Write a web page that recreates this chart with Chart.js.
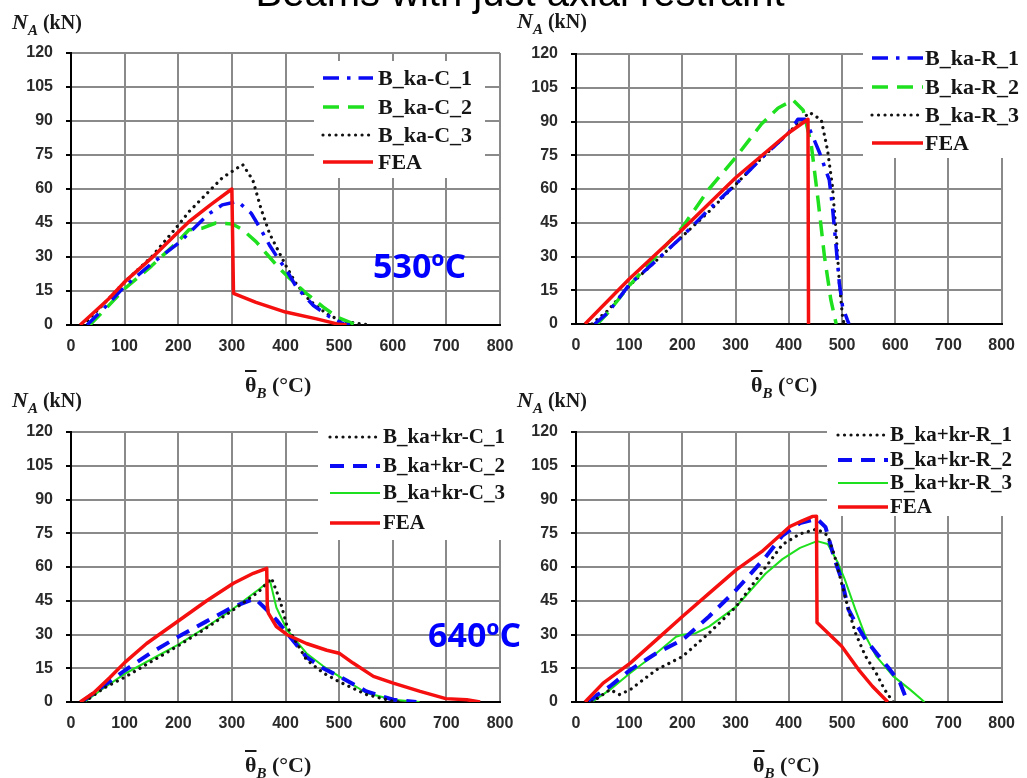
<!DOCTYPE html>
<html><head><meta charset="utf-8">
<script src="https://cdn.jsdelivr.net/npm/chart.js@4.4.1/dist/chart.umd.min.js"></script>
<style>
html,body{margin:0;padding:0;background:#fff;width:1027px;height:778px;overflow:hidden;position:relative;}
canvas{position:absolute;left:0;top:0;}
.t{position:absolute;white-space:nowrap;line-height:1;z-index:5;}
.title{left:0;width:1040px;text-align:center;top:-30px;font:40px "Liberation Sans",Arial,sans-serif;color:#000;}
.yt{font:bold 22px "Liberation Serif","Times New Roman",serif;color:#1a1a1a;}
.yt i{font-style:italic;}
.sub{font-size:15px;position:relative;top:6px;font-style:italic;}
.kn{font-size:20px;}
.ann{font:bold 34px "Open Sans",sans-serif;color:#0000ff;}
.theta{text-decoration:overline;}
</style></head><body>
<canvas id="c1" width="1027" height="778"></canvas>
<canvas id="c2" width="1027" height="778"></canvas>
<canvas id="c3" width="1027" height="778"></canvas>
<canvas id="c4" width="1027" height="778"></canvas>

<div class="t title">Beams with just axial restraint</div>

<div class="t yt" style="left:12px;top:9px"><i>N</i><span class="sub">A</span><span class="kn"> (kN)</span></div>
<div class="t yt" style="left:517px;top:8px"><i>N</i><span class="sub">A</span><span class="kn"> (kN)</span></div>
<div class="t yt" style="left:12px;top:387px"><i>N</i><span class="sub">A</span><span class="kn"> (kN)</span></div>
<div class="t yt" style="left:517px;top:387px"><i>N</i><span class="sub">A</span><span class="kn"> (kN)</span></div>

<div class="t yt" style="left:245px;top:372px"><span class="theta">θ</span><span class="sub">B</span> (°C)</div>
<div class="t yt" style="left:751px;top:372px"><span class="theta">θ</span><span class="sub">B</span> (°C)</div>
<div class="t yt" style="left:245px;top:752px"><span class="theta">θ</span><span class="sub">B</span> (°C)</div>
<div class="t yt" style="left:753px;top:752px"><span class="theta">θ</span><span class="sub">B</span> (°C)</div>

<div class="t ann" style="left:373px;top:242px">530ºC</div>
<div class="t ann" style="left:428px;top:611px">640ºC</div>

<script>
// ---------- tick labels ----------
const xTickValues = [0,100,200,300,400,500,600,700,800];
const yTickValues = [0,15,30,45,60,75,90,105,120];

// ---------- Panel 1 (B_ka-C) ----------
const p1Labels = ['B_ka-C_1','B_ka-C_2','B_ka-C_3','FEA'];
const p1C1 = [[30,0],[60,7],[100,17],[150,27],[200,36],[257,49],[282,53],[311,54.5],[336,49.3],[351,43.4],[370,35.3],[386,29.4],[402,24.2],[420,16.8],[452,8.6],[483,3.5],[508,0.5],[520,0]];
const p1C2 = [[35,0],[60,6],[100,16],[150,26],[200,37],[220,42],[245,42.7],[270,45],[301,44.6],[320,42],[345,36.8],[370,30],[389,24.9],[408,20.5],[439,13.9],[470,8],[496,3.5],[527,0.5],[535,0]];
const p1C3 = [[22,0],[60,9],[100,19],[150,30],[200,44],[220,50],[282,64.9],[320,70.8],[339,64],[355,50.8],[370,40.5],[389,31.6],[402,25.6],[420,18.2],[445,10.8],[477,4.9],[502,2],[540,0.5],[558,0]];
const p1FEA = [[17,0],[40,5],[70,11.5],[100,19],[150,29.5],[200,41],[220,45.6],[260,53],[300,60],[303,14],[345,10],[400,5.7],[458,2.7],[496,0.5],[514,0]];

// ---------- Panel 2 (B_ka-R) ----------
const p2Labels = ['B_ka-R_1','B_ka-R_2','B_ka-R_3','FEA'];
const p2R1 = [[35,0],[60,5],[100,17.5],[150,28],[200,39],[250,51],[300,62],[350,74],[400,85],[417,91],[430,91],[442,85],[458,76],[476,64],[482,52],[489,34],[495,18],[501,7.7],[510,1.8],[513,0]];
const p2R2 = [[40,0],[60,5],[100,17],[150,30],[200,43],[250,60],[300,74],[349,89],[380,96],[408,99.5],[427,95],[442,80],[455,55],[467,30],[479,10.7],[489,0]];
const p2R3 = [[30,0],[60,6],[100,17],[150,28],[200,39],[250,50],[300,62],[350,74],[400,85],[420,90],[439,94],[461,90.7],[473,77],[482,61],[489,40],[495,18],[501,3],[504,0]];
const p2FEA = [[17,0],[100,20],[200,42],[300,65],[400,85],[436,91],[437,0]];

// ---------- Panel 3 (B_ka+kr-C) ----------
const p3Labels = ['B_ka+kr-C_1','B_ka+kr-C_2','B_ka+kr-C_3','FEA'];
const p3C1 = [[25,0],[60,6],[100,11],[150,18],[200,25],[250,32.5],[300,40.5],[350,49],[374,55],[390,45],[403,33.5],[439,18.8],[470,13],[500,9],[551,3.3],[601,0.3],[613,0]];
const p3C2 = [[20,0],[60,7],[100,14],[150,22],[200,29],[250,35.5],[300,42],[343,46],[365,41],[383,36.5],[403,30.6],[439,20],[470,15],[500,11.4],[551,4.7],[601,1],[644,0]];
const p3C3 = [[25,0],[60,6],[100,12.5],[150,19],[200,25.5],[250,33],[300,41],[350,50],[371,54],[383,42],[403,32],[439,21.7],[470,16],[500,11.4],[551,4],[601,1],[650,0]];
const p3FEA = [[17,0],[42,4],[73,11],[100,17.5],[141,26],[200,36],[253,45],[303,52.8],[340,57.2],[365,59.4],[366,43],[368,39.5],[383,33.5],[403,29.9],[439,26],[477,23],[500,21.7],[526,17.3],[564,11.4],[601,8.4],[651,4.7],[699,1.5],[738,1],[763,0]];

// ---------- Panel 4 (B_ka+kr-R) ----------
const p4Labels = ['B_ka+kr-R_1','B_ka+kr-R_2','B_ka+kr-R_3','FEA'];
const p4R1 = [[30,0],[64,5.5],[82,3.3],[102,5.5],[151,14.3],[200,20.2],[250,30.6],[301,42.4],[356,59.8],[388,70],[421,74.7],[453,76.9],[473,74],[486,65],[499,53],[512,41.2],[525,30.8],[544,20.4],[564,12.9],[580,5.5],[596,0]];
const p4R2 = [[25,0],[39,3],[64,7],[102,14.3],[151,21.7],[200,27.6],[250,38],[301,49.8],[356,64.3],[388,74],[421,79.5],[453,81.4],[469,77.7],[486,63.5],[499,54.6],[512,41.2],[525,35.3],[544,27.8],[564,21.9],[590,14.4],[609,8.5],[619,2.5]];
const p4R3 = [[30,0],[64,5.5],[102,12.9],[151,21.7],[188,29],[200,29.9],[225,30.6],[250,33.5],[301,42.4],[356,57],[388,63.5],[421,68.5],[453,71.5],[473,70.2],[492,62],[505,54.6],[525,41.2],[544,29.3],[564,20.4],[596,11.5],[628,5.5],[655,0]];
const p4FEA = [[17,0],[51,8.4],[102,17.3],[151,27.6],[200,38],[250,48.3],[301,58.7],[349,66.8],[402,78],[425,80.5],[445,82.5],[452,82.6],[453,35.3],[473,30.8],[499,24.9],[531,14.4],[557,7],[586,0]];

// ---------- styles ----------
const BLUE='#0a0af5', GREEN='#1ee01e', BLACK='#111111', RED='#f50f0f';
const GRID='#8a8a8a';
const ST = {
  dashdot:{dash:[16,8,3.5,8],width:3.5,cap:'butt'},
  dashed:{dash:[16,9],width:3.5,cap:'butt'},
  dashedB:{dash:[14,9],width:4,cap:'butt'},
  dotted:{dash:[0.01,6.5],width:3.2,cap:'round'},
  thick:{dash:[],width:3.5,cap:'butt'},
  thin:{dash:[],width:2,cap:'butt'}
};

function ds(label, pts, color, st, order){
  return {label, data: pts.map(p=>({x:p[0],y:p[1]})), borderColor:color, backgroundColor:color,
    borderWidth:st.width, borderDash:st.dash, borderCapStyle:st.cap, borderJoinStyle:'round',
    pointRadius:0, tension:0, fill:false, order:order||0};
}

const legendSpecs = {};
const legendPlugin = {
  id:'boxLegend',
  afterDraw(chart){
    const spec = legendSpecs[chart.canvas.id]; if(!spec) return;
    const ctx = chart.ctx; ctx.save();
    ctx.fillStyle='#fff'; ctx.fillRect(spec.box[0],spec.box[1],spec.box[2],spec.box[3]);
    chart.data.datasets.forEach((d,i)=>{
      const y = spec.rows[i];
      ctx.strokeStyle=d.borderColor; ctx.lineWidth=d.borderWidth; ctx.setLineDash(d.borderDash||[]); ctx.lineCap=d.borderCapStyle;
      ctx.beginPath(); ctx.moveTo(spec.x1,y); ctx.lineTo(spec.x2,y); ctx.stroke();
      ctx.setLineDash([]);
      ctx.fillStyle='#151515'; ctx.font=spec.font; ctx.textBaseline='middle'; ctx.textAlign='left';
      ctx.fillText(d.label, spec.tx, y+1);
    });
    ctx.restore();
  }
};

const W=1027,H=778, YW=60, XH=40;
function panel(id, rect, datasets, leg){
  legendSpecs[id]=leg;
  const tickFont={family:'"Liberation Sans", Arial, sans-serif',weight:'bold',size:16};
  new Chart(document.getElementById(id),{
    type:'line',
    data:{datasets},
    plugins:[legendPlugin],
    options:{
      responsive:false, animation:false, devicePixelRatio:1,
      layout:{padding:{left:rect.l-YW, right:W-rect.r, top:rect.t, bottom:H-rect.b-XH}},
      plugins:{legend:{display:false},tooltip:{enabled:false},title:{display:false}},
      scales:{
        x:{type:'linear',min:0,max:800,
          afterBuildTicks:s=>{s.ticks=xTickValues.map(v=>({value:v}));},
          afterFit:s=>{s.height=XH;},
          grid:{color:GRID,lineWidth:2,drawTicks:false,z:-1},
          border:{display:true,color:'#000',width:2},
          ticks:{font:tickFont,color:'#2a2a2a',padding:12,maxRotation:0,autoSkip:false}},
        y:{type:'linear',min:0,max:120,
          afterBuildTicks:s=>{s.ticks=yTickValues.map(v=>({value:v}));},
          afterFit:s=>{s.width=YW;},
          grid:{color:GRID,lineWidth:2,drawTicks:true,tickLength:5,tickColor:'#000',tickWidth:2,z:-1},
          border:{display:true,color:'#000',width:2},
          ticks:{font:tickFont,color:'#2a2a2a',padding:13,autoSkip:false}}
      }
    }
  });
}

panel('c1',{l:71,r:500,t:53,b:325},[
  ds(p1Labels[0],p1C1,BLUE,ST.dashdot),
  ds(p1Labels[1],p1C2,GREEN,ST.dashed),
  ds(p1Labels[2],p1C3,BLACK,ST.dotted),
  ds(p1Labels[3],p1FEA,RED,ST.thick,-1)
],{box:[314,61,171,117],x1:323,x2:373,tx:378,rows:[78,107,135,162],font:'bold 22px "Liberation Serif", serif'});

panel('c2',{l:576,r:1006,t:54,b:324},[
  ds(p2Labels[0],p2R1,BLUE,ST.dashdot),
  ds(p2Labels[1],p2R2,GREEN,ST.dashed),
  ds(p2Labels[2],p2R3,BLACK,ST.dotted),
  ds(p2Labels[3],p2FEA,RED,ST.thick,-1)
],{box:[863,44,164,114],x1:872,x2:923,tx:925,rows:[58,87,115,143],font:'bold 22px "Liberation Serif", serif'});

panel('c3',{l:71,r:500,t:432,b:702},[
  ds(p3Labels[0],p3C1,BLACK,ST.dotted),
  ds(p3Labels[1],p3C2,BLUE,ST.dashedB),
  ds(p3Labels[2],p3C3,GREEN,ST.thin),
  ds(p3Labels[3],p3FEA,RED,ST.thick,-1)
],{box:[318,424,206,116],x1:330,x2:380,tx:383,rows:[437,466,493,523],font:'bold 21px "Liberation Serif", serif'});

panel('c4',{l:576,r:1006,t:432,b:702},[
  ds(p4Labels[0],p4R1,BLACK,ST.dotted),
  ds(p4Labels[1],p4R2,BLUE,ST.dashedB),
  ds(p4Labels[2],p4R3,GREEN,ST.thin),
  ds(p4Labels[3],p4FEA,RED,ST.thick,-1)
],{box:[827,424,200,92],x1:838,x2:888,tx:890,rows:[435,460,483,507],font:'bold 21px "Liberation Serif", serif'});
</script>
</body></html>
